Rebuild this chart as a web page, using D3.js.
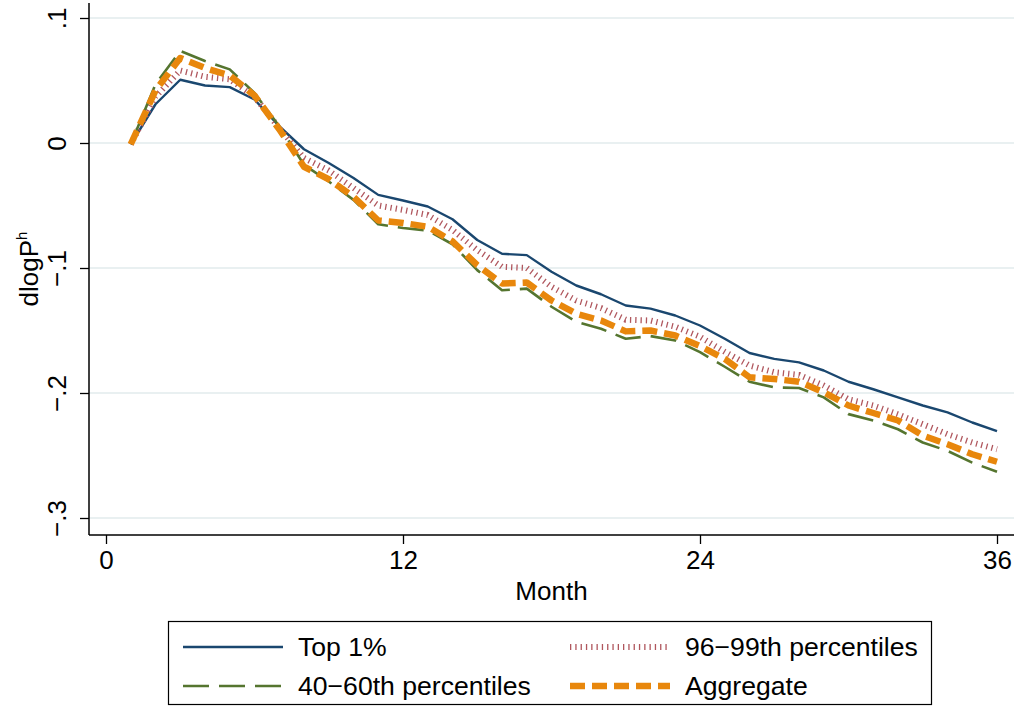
<!DOCTYPE html>
<html>
<head>
<meta charset="utf-8">
<script src="https://cdn.jsdelivr.net/npm/d3@7"></script>
<style>
  body { margin: 0; background: #fff; }
  text { font-family: "Liberation Sans", Arial, Helvetica, sans-serif; fill: #000; }
</style>
</head>
<body>
<div id="vis"></div>
<script>
var width = 1014,
    height = 710;

// months 1..36
var months = d3.range(1, 37);
var xTicks = [0, 12, 24, 36];
var yTicks = [0.1, 0, -0.1, -0.2, -0.3];
var yTickLabels = [".1", "0", "\u2212.1", "\u2212.2", "\u2212.3"];

var top1 = [-0.001, 0.031, 0.0506, 0.046, 0.0447, 0.0348, 0.0134, -0.005, -0.016, -0.028,
  -0.0415, -0.046, -0.0508, -0.061, -0.0776, -0.0886, -0.0897, -0.103, -0.114, -0.121,
  -0.130, -0.1325, -0.138, -0.146, -0.1566, -0.168, -0.1727, -0.1755, -0.182, -0.191,
  -0.197, -0.2035, -0.210, -0.2155, -0.2236, -0.2305];
var p96_99 = [-0.001, 0.037, 0.058, 0.053, 0.051, 0.037, 0.012, -0.012, -0.022, -0.036,
  -0.050, -0.0535, -0.0576, -0.0696, -0.0857, -0.099, -0.100, -0.115, -0.126, -0.132,
  -0.1414, -0.142, -0.147, -0.155, -0.167, -0.178, -0.1834, -0.1855, -0.194, -0.205,
  -0.210, -0.217, -0.225, -0.233, -0.2396, -0.245];
var p40_60 = [-0.001, 0.047, 0.0737, 0.0656, 0.0589, 0.040, 0.0134, -0.0174, -0.0308, -0.0455,
  -0.065, -0.068, -0.070, -0.081, -0.1017, -0.1178, -0.1165, -0.131, -0.143, -0.1486,
  -0.1566, -0.1545, -0.158, -0.1673, -0.179, -0.191, -0.1955, -0.196, -0.2035, -0.2169,
  -0.222, -0.229, -0.2396, -0.2463, -0.2557, -0.263];
var aggregate = [-0.001, 0.042, 0.068, 0.060, 0.054, 0.038, 0.011, -0.019, -0.029, -0.043,
  -0.062, -0.064, -0.067, -0.0787, -0.0977, -0.1124, -0.1116, -0.126, -0.1365, -0.142,
  -0.1507, -0.150, -0.154, -0.1625, -0.1727, -0.1874, -0.1888, -0.191, -0.1994, -0.210,
  -0.216, -0.222, -0.234, -0.241, -0.249, -0.255];

var seriesNames = ["Top 1%", "96\u221299th percentiles", "40\u221260th percentiles", "Aggregate"];

// styles per series, drawn in this order
var series = [
  { name: seriesNames[0], values: top1,      color: "#1a476f", w: 2.4, dash: null },
  { name: seriesNames[1], values: p96_99,    color: "#b0575e", w: 6,   dash: "1.3,4" },
  { name: seriesNames[2], values: p40_60,    color: "#55752f", w: 2.6, dash: "26,10" },
  { name: seriesNames[3], values: aggregate, color: "#e8870c", w: 6.5, dash: "15,7" }
];

var fontSize = "26px";

var svg = d3.select("#vis").append("svg")
    .attr("width", width)
    .attr("height", height);

var x = d3.scaleLinear().domain([0, 36]).range([106, 997]);
var y = d3.scaleLinear().domain([-0.3, 0.1]).range([518, 18]);

var plotLeft = 89, plotRight = 1014, plotTop = 3, plotBottom = 535;

//--------GRID--------//
svg.append("g")
  .selectAll("line")
  .data(yTicks)
  .enter()
  .append("line")
    .attr("x1", plotLeft)
    .attr("x2", plotRight)
    .attr("y1", function(d) { return y(d); })
    .attr("y2", function(d) { return y(d); })
    .attr("stroke", "#e9f0f1")
    .attr("stroke-width", 2);

//--------AXES--------//
var yAxis = svg.append("g")
    .attr("transform", "translate(" + plotLeft + ",0)")
    .call(d3.axisLeft(y).tickValues(yTicks).tickSize(9).tickPadding(14)
      .tickFormat(function(d, i) { return yTickLabels[i]; }));

yAxis.select(".domain").remove();
yAxis.append("line")
    .attr("y1", plotTop)
    .attr("y2", plotBottom)
    .attr("stroke", "#000")
    .attr("stroke-width", 1.5);
yAxis.selectAll(".tick line").attr("stroke-width", 1.3);
yAxis.selectAll(".tick text")
    .attr("x", null)
    .attr("dy", null)
    .attr("transform", "translate(-23,0) rotate(-90)")
    .attr("text-anchor", "middle")
    .style("font-size", fontSize)
    .style("font-family", "Liberation Sans, Arial, sans-serif");

var xAxis = svg.append("g")
    .attr("transform", "translate(0," + plotBottom + ")")
    .call(d3.axisBottom(x).tickValues(xTicks).tickSize(9).tickPadding(7)
      .tickFormat(d3.format("d")));

xAxis.select(".domain").remove();
xAxis.append("line")
    .attr("x1", plotLeft)
    .attr("x2", plotRight)
    .attr("stroke", "#000")
    .attr("stroke-width", 1.5);
xAxis.selectAll(".tick line").attr("stroke-width", 1.3);
xAxis.selectAll(".tick text")
    .style("font-size", fontSize)
    .style("font-family", "Liberation Sans, Arial, sans-serif");

// axis titles
svg.append("text")
    .attr("x", (x(0) + x(36)) / 2)
    .attr("y", 600)
    .attr("text-anchor", "middle")
    .style("font-size", fontSize)
    .text("Month");

var ylab = svg.append("text")
    .attr("transform", "translate(38," + ((plotTop + plotBottom) / 2) + ") rotate(-90)")
    .attr("text-anchor", "middle")
    .style("font-size", fontSize);
ylab.append("tspan").text("dlogP");
ylab.append("tspan").attr("dy", -11).style("font-size", "15px").text("h");

//--------LINES--------//
var line = d3.line()
    .x(function(d, i) { return x(months[i]); })
    .y(function(d) { return y(d); });

series.forEach(function(s) {
    svg.append("path")
        .datum(s.values)
        .attr("d", line)
        .attr("fill", "none")
        .attr("stroke", s.color)
        .attr("stroke-width", s.w)
        .attr("stroke-dasharray", s.dash)
        .attr("stroke-linejoin", "round");
});

//--------LEGEND--------//
svg.append("rect")
    .attr("x", 168.5)
    .attr("y", 621.5)
    .attr("width", 763)
    .attr("height", 83)
    .attr("fill", "none")
    .attr("stroke", "#000")
    .attr("stroke-width", 1.2);

// legend goes row-wise: Top 1%, 96-99, 40-60, Aggregate
var legX = [183, 570], legY = [647, 686];
series.forEach(function(s, i) {
    var col = i % 2, row = Math.floor(i / 2);
    svg.append("line")
        .attr("x1", legX[col])
        .attr("x2", legX[col] + 100)
        .attr("y1", legY[row])
        .attr("y2", legY[row])
        .attr("stroke", s.color)
        .attr("stroke-width", s.w)
        .attr("stroke-dasharray", s.dash);
    svg.append("text")
        .attr("x", legX[col] + 115)
        .attr("y", legY[row] + 9)
        .style("font-size", "26.6px")
        .text(s.name);
});
</script>
</body>
</html>
